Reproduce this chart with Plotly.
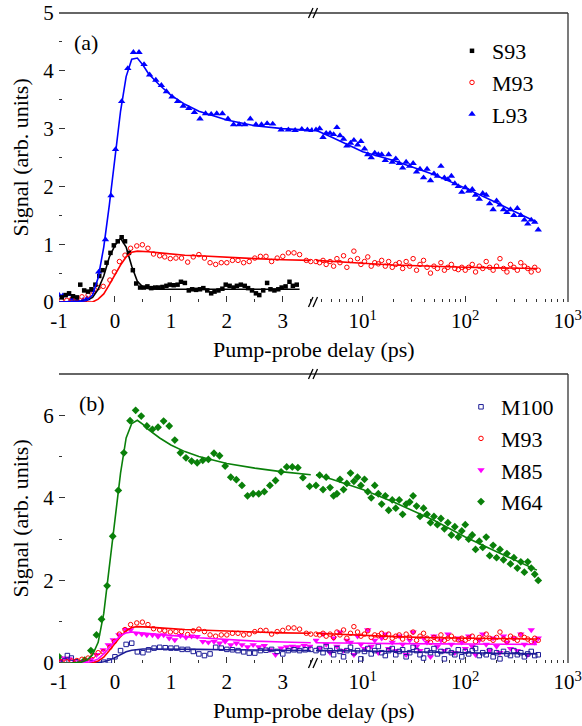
import plotly.graph_objects as go

# ---------------- data ----------------
# Panel (a) - linear part (ps)
s93_t = [-0.95, -0.88, -0.82, -0.75, -0.68, -0.62, -0.55, -0.48, -0.42, -0.35,
         -0.28, -0.22, -0.15, -0.08, -0.02, 0.05, 0.12, 0.18, 0.25, 0.32,
         0.38, 0.45, 0.52, 0.58, 0.65, 0.72, 0.78, 0.85, 0.92, 0.98,
         1.05, 1.12, 1.18, 1.25, 1.32, 1.38, 1.45, 1.52, 1.58, 1.65,
         1.72, 1.78, 1.85, 1.92, 1.98, 2.05, 2.12, 2.18, 2.25, 2.32,
         2.38, 2.45, 2.52, 2.58, 2.65, 2.72, 2.78, 2.85, 2.92, 2.98,
         3.05, 3.12, 3.18, 3.25]
s93_y = [0.08, 0.12, 0.15, 0.10, 0.08, 0.30, 0.20, 0.18, 0.22, 0.30,
         0.45, 0.55, 0.68, 0.85, 0.98, 1.05, 1.12, 1.05, 0.85, 0.55,
         0.32, 0.25, 0.25, 0.27, 0.24, 0.25, 0.25, 0.26, 0.28, 0.30,
         0.29, 0.30, 0.35, 0.33, 0.20, 0.22, 0.21, 0.22, 0.24, 0.20,
         0.15, 0.18, 0.20, 0.23, 0.30, 0.28, 0.25, 0.28, 0.30, 0.28,
         0.24, 0.20, 0.15, 0.12, 0.20, 0.33, 0.22, 0.20, 0.22, 0.25,
         0.27, 0.35, 0.28, 0.30]

m93_t = [-0.96, -0.86, -0.77, -0.68, -0.59, -0.48, -0.39, -0.30, -0.21, -0.09,
         -0.01, 0.08, 0.18, 0.28, 0.39, 0.49, 0.59, 0.69, 0.80, 0.89,
         0.99, 1.09, 1.19, 1.30, 1.40, 1.50, 1.60, 1.70, 1.80, 1.90,
         2.00, 2.10, 2.20, 2.30, 2.40, 2.50, 2.60, 2.70, 2.80, 2.90,
         3.00, 3.10, 3.20, 3.30, 3.42, 3.50]
m93_y = [0.03, 0.03, 0.05, 0.06, 0.09, 0.12, 0.18, 0.25, 0.27, 0.38,
         0.52, 0.70, 0.81, 0.93, 0.97, 0.99, 0.93, 0.83, 0.80, 0.78,
         0.75, 0.76, 0.76, 0.69, 0.78, 0.82, 0.76, 0.68, 0.65, 0.68,
         0.68, 0.72, 0.72, 0.68, 0.70, 0.76, 0.79, 0.79, 0.70, 0.76,
         0.79, 0.85, 0.85, 0.82, 0.72, 0.70]

l93_t = [-1.00, -0.93, -0.83, -0.77, -0.67, -0.57, -0.50, -0.40, -0.29, -0.17,
         -0.07, 0.01, 0.12, 0.23, 0.33, 0.43, 0.52, 0.62, 0.73, 0.83,
         0.92, 1.02, 1.12, 1.22, 1.32, 1.42, 1.52, 1.62, 1.72, 1.82,
         1.92, 2.02, 2.12, 2.22, 2.32, 2.42, 2.52, 2.62, 2.72, 2.82,
         2.97, 3.10, 3.22, 3.34, 3.44, 3.52]
l93_y = [0.12, 0.11, 0.13, 0.05, 0.02, 0.03, 0.06, 0.20, 0.52, 1.08,
         1.84, 2.64, 3.47, 4.04, 4.32, 4.32, 4.11, 3.93, 3.84, 3.75,
         3.64, 3.55, 3.47, 3.39, 3.35, 3.28, 3.17, 3.26, 3.25, 3.26,
         3.26, 3.17, 3.07, 3.07, 3.07, 3.17, 3.07, 3.07, 3.09, 3.08,
         2.98, 2.98, 2.97, 2.99, 2.98, 2.97]

# Log part (ps)
t_log = [3.5, 3.8, 4.1, 4.4, 4.8, 5.2, 5.6, 6.0, 6.5, 7.0,
         7.6, 8.2, 8.9, 9.6, 10.4, 11.2, 12.1, 13.1, 14.2, 15.3,
         16.6, 17.9, 19.4, 21, 22.7, 24.5, 26.5, 28.7, 31, 33.5,
         36.2, 39.2, 42.4, 45.8, 49.5, 53.5, 57.9, 62.6, 67.7, 73.2,
         79.1, 85.5, 92.5, 100, 108, 117, 126, 137, 148, 160,
         173, 187, 202, 218, 236, 255, 276, 298, 322, 348,
         377, 407, 440, 476, 515]
l93_log_y = [2.98, 3.00, 2.85, 2.92, 2.92, 2.90, 3.02, 2.88, 2.82, 2.70,
             2.75, 2.80, 2.72, 2.78, 2.65, 2.55, 2.50, 2.58, 2.55, 2.55,
             2.45, 2.55, 2.42, 2.48, 2.40, 2.32, 2.42, 2.35, 2.40, 2.25,
             2.30, 2.15, 2.30, 2.10, 2.22, 2.18, 2.35, 2.15, 2.12, 2.18,
             2.05, 2.00, 1.90, 1.98, 1.92, 1.95, 1.85, 1.78, 1.88, 1.85,
             1.70, 1.60, 1.75, 1.68, 1.60, 1.55, 1.60, 1.50, 1.62, 1.50,
             1.42, 1.35, 1.42, 1.38, 1.25]
m93_log_y = [0.70, 0.68, 0.72, 0.65, 0.70, 0.62, 0.75, 0.68, 0.80, 0.60,
             0.72, 0.88, 0.75, 0.65, 0.70, 0.78, 0.62, 0.68, 0.66, 0.72,
             0.62, 0.70, 0.60, 0.65, 0.68, 0.58, 0.70, 0.62, 0.75, 0.55,
             0.65, 0.72, 0.60, 0.50, 0.62, 0.58, 0.68, 0.55, 0.60, 0.65,
             0.58, 0.56, 0.60, 0.55, 0.60, 0.65, 0.52, 0.62, 0.58, 0.70,
             0.60, 0.55, 0.62, 0.75, 0.58, 0.52, 0.65, 0.60, 0.55, 0.68,
             0.62, 0.58, 0.52, 0.60, 0.55]

# Fit curves
fit_t_lin = [-1.0, -0.8, -0.6, -0.5, -0.4, -0.3, -0.2, -0.1, 0.0, 0.1, 0.2, 0.3,
             0.4, 0.5, 0.6, 0.8, 1.0, 1.25, 1.5, 2.0, 2.5, 3.0, 3.5]
fit_t_log = [3.5, 5, 10, 20, 50, 100, 200, 500]

s93_fit_t = [-1.0, -0.8, -0.6, -0.5, -0.4, -0.3, -0.2, -0.1, 0.0, 0.1, 0.2, 0.3,
             0.4, 0.5, 0.6, 0.8, 1.0, 1.5, 2.0, 2.5, 3.0, 3.3]
s93_fit_y = [0.0, 0.0, 0.01, 0.03, 0.08, 0.22, 0.45, 0.78, 0.98, 1.10, 0.95, 0.62,
             0.36, 0.26, 0.23, 0.22, 0.22, 0.22, 0.22, 0.22, 0.22, 0.22]
m93_fit_y = [0.0, 0.0, 0.0, 0.0, 0.0, 0.05, 0.14, 0.30, 0.47, 0.64, 0.78, 0.86,
             0.88, 0.88, 0.87, 0.85, 0.83, 0.81, 0.80, 0.77, 0.75, 0.73, 0.72]
l93_fit_y = [0.0, 0.0, 0.01, 0.03, 0.12, 0.42, 0.95, 1.68, 2.52, 3.30, 3.90, 4.20,
             4.22, 4.10, 3.95, 3.75, 3.58, 3.42, 3.30, 3.15, 3.05, 3.00, 2.97]
m93_fit_log_y = [0.72, 0.70, 0.67, 0.64, 0.61, 0.60, 0.59, 0.58]
l93_fit_log_y = [2.97, 2.85, 2.60, 2.45, 2.20, 1.97, 1.72, 1.38]

# Panel (b)
m100_t = [-1.0, -0.9, -0.85, -0.78, -0.7, -0.6, -0.4, -0.2, -0.1, 0.0,
          0.1, 0.2, 0.3, 0.4, 0.5, 0.6, 0.7, 0.8, 0.9, 1.0,
          1.1, 1.2, 1.3, 1.4, 1.5, 1.6, 1.7, 1.8, 1.9, 2.0,
          2.1, 2.2, 2.3, 2.4, 2.5, 2.6, 2.7, 2.8, 2.9, 3.0,
          3.1, 3.2, 3.3, 3.4, 3.5]
m100_y = [0.02, 0.05, 0.18, 0.12, 0.03, 0.00, 0.00, 0.02, 0.05, 0.15,
          0.30, 0.45, 0.48, 0.27, 0.25, 0.32, 0.36, 0.38, 0.37, 0.36,
          0.36, 0.33, 0.33, 0.28, 0.22, 0.18, 0.22, 0.38, 0.36, 0.33,
          0.32, 0.30, 0.27, 0.24, 0.24, 0.30, 0.31, 0.33, 0.28, 0.22,
          0.30, 0.32, 0.30, 0.32, 0.33]
m85_t = [-0.97, -0.9, -0.82, -0.73, -0.63, -0.53, -0.43, -0.33, -0.21, -0.12,
         -0.03, 0.07, 0.19, 0.28, 0.38, 0.48, 0.57, 0.67, 0.77, 0.87,
         0.97, 1.07, 1.17, 1.27, 1.37, 1.47, 1.57, 1.67, 1.77, 1.87,
         1.97, 2.07, 2.17, 2.27, 2.37, 2.47, 2.57, 2.67, 2.77, 2.87,
         2.97, 3.07, 3.17, 3.27, 3.38, 3.48]
m85_y = [0.05, 0.12, 0.10, 0.05, 0.02, 0.03, 0.08, 0.20, 0.32, 0.44,
         0.56, 0.68, 0.81, 0.80, 0.72, 0.70, 0.68, 0.68, 0.64, 0.68,
         0.60, 0.56, 0.66, 0.62, 0.65, 0.64, 0.52, 0.50, 0.52, 0.48,
         0.52, 0.44, 0.48, 0.44, 0.39, 0.44, 0.39, 0.42, 0.32, 0.20,
         0.36, 0.39, 0.40, 0.39, 0.42, 0.40]
m64_t = [-1.0, -0.54, -0.43, -0.33, -0.24, -0.14, -0.04, 0.06, 0.16, 0.27,
         0.37, 0.47, 0.57, 0.67, 0.77, 0.87, 0.97, 1.07, 1.17, 1.27,
         1.37, 1.47, 1.57, 1.67, 1.77, 1.87, 1.97, 2.07, 2.17, 2.27,
         2.37, 2.47, 2.57, 2.67, 2.77, 2.87, 2.97, 3.07, 3.17, 3.27,
         3.36, 3.48]
m64_y = [0.15, 0.07, 0.30, 0.68, 1.06, 1.87, 3.07, 4.18, 5.09, 5.87,
         6.12, 5.98, 5.74, 5.66, 5.71, 5.86, 5.74, 5.40, 5.09, 4.97,
         4.89, 4.85, 4.91, 4.93, 5.08, 5.02, 4.77, 4.50, 4.44, 4.30,
         4.05, 4.10, 4.10, 4.15, 4.30, 4.42, 4.63, 4.75, 4.75, 4.73,
         4.49, 4.28]

m100_log_y = [0.30, 0.35, 0.25, 0.40, 0.30, 0.20, 0.35, 0.28, 0.15, 0.30,
              0.38, 0.25, 0.30, 0.10, 0.28, 0.35, 0.22, 0.30, 0.40, 0.25,
              0.18, 0.30, 0.35, 0.20, 0.28, 0.32, 0.15, 0.25, 0.38, 0.30,
              0.20, 0.12, 0.30, 0.25, 0.35, 0.22, 0.28, 0.10, 0.30, 0.25,
              0.20, 0.32, 0.15, 0.28, 0.22, 0.30, 0.35, 0.18, 0.25, 0.20,
              0.30, 0.15, 0.25, 0.10, 0.28, 0.22, 0.18, 0.30, 0.20, 0.25,
              0.15, 0.22, 0.28, 0.18, 0.20]
m85_log_y = [0.55, 0.35, 0.70, 0.45, 0.25, 0.60, 0.40, 0.75, 0.30, 0.55,
             0.50, 0.20, 0.65, 0.45, 0.35, 0.80, 0.40, 0.55, 0.25, 0.60,
             0.70, 0.35, 0.50, 0.30, 0.65, 0.45, 0.20, 0.55, 0.75, 0.40,
             0.30, 0.60, 0.50, 0.15, 0.65, 0.40, 0.55, 0.30, 0.70, 0.45,
             0.25, 0.60, 0.50, 0.35, 0.65, 0.40, 0.20, 0.55, 0.70, 0.45,
             0.30, 0.60, 0.40, 0.25, 0.65, 0.50, 0.35, 0.60, 0.30, 0.70,
             0.45, 0.20, 0.80, 0.50, 0.60]
m64_log_y = [4.30, 4.55, 4.20, 4.50, 4.25, 4.05, 4.10, 4.45, 4.20, 4.35,
             4.60, 4.40, 4.50, 4.30, 4.45, 4.15, 4.00, 4.30, 4.10, 3.85,
             4.05, 3.70, 3.95, 3.75, 3.95, 3.60, 3.85, 3.90, 4.05, 3.80,
             3.55, 3.75, 3.60, 3.40, 3.55, 3.35, 3.50, 3.25, 3.40, 3.10,
             3.30, 3.05, 3.20, 3.35, 3.00, 3.10, 2.75, 2.95, 2.80, 3.05,
             2.60, 2.85, 2.55, 2.75, 2.50, 2.65, 2.40, 2.55, 2.30, 2.45,
             2.20, 2.45, 2.30, 2.15, 2.00]

m100_fit_y = [0.0, 0.0, 0.0, 0.0, 0.0, 0.01, 0.03, 0.07, 0.13, 0.20, 0.27, 0.31,
              0.33, 0.34, 0.34, 0.34, 0.34, 0.33, 0.33, 0.32, 0.31, 0.31, 0.30]
m85_fit_y = [0.0, 0.0, 0.0, 0.01, 0.04, 0.10, 0.22, 0.38, 0.53, 0.66, 0.73, 0.75,
             0.74, 0.73, 0.72, 0.70, 0.67, 0.64, 0.61, 0.57, 0.53, 0.51, 0.49]
m64_fit_y = [0.0, 0.0, 0.02, 0.07, 0.20, 0.50, 1.20, 2.30, 3.50, 4.60, 5.45, 5.80,
             5.88, 5.78, 5.65, 5.45, 5.28, 5.12, 5.00, 4.83, 4.72, 4.63, 4.56]
m100_fit_log_y = [0.30, 0.30, 0.29, 0.28, 0.26, 0.25, 0.24, 0.22]
m85_fit_log_y = [0.49, 0.49, 0.48, 0.47, 0.46, 0.46, 0.45, 0.45]
m64_fit_log_y = [4.56, 4.45, 4.20, 3.90, 3.45, 3.05, 2.70, 2.25]

xtick_lin = [-1, 0, 1, 2, 3]
xtick_lin_text = ["-1", "0", "1", "2", "3"]
xtick_log = [10, 100, 1000]
xtick_log_text = ["10<sup>1</sup>", "10<sup>2</sup>", "10<sup>3</sup>"]
xminor_log = [4, 5, 6, 7, 8, 9, 20, 30, 40, 50, 60, 70, 80, 90,
              200, 300, 400, 500, 600, 700, 800, 900]

# ---------------- layout geometry (pixels) ----------------
W, H = 582, 726
X0, XB, X1 = 59, 313, 568
A_TOP, A_BOT = 13, 302
B_TOP, B_BOT = 374, 663
FONT = "Liberation Serif"
AX = "#333333"


def fx(p):
    return p / W


def fy(p):
    return 1 - p / H


fig = go.Figure()

BLACK, RED, BLUE = "#000000", "#ff0000", "#0000ff"
NAVY, MAG, GREEN = "#1c1c96", "#ff00ff", "#0a800a"

sym = {
    "S93": dict(symbol="square", size=4.5, color=BLACK),
    "M93": dict(symbol="circle-open", size=4.5, color=RED, line=dict(width=1, color=RED)),
    "L93": dict(symbol="triangle-up", size=6.5, color=BLUE),
    "M100": dict(symbol="square-open", size=4.5, color=NAVY, line=dict(width=1, color=NAVY)),
    "M85": dict(symbol="triangle-down", size=6.5, color=MAG),
    "M64": dict(symbol="diamond", size=6, color=GREEN),
}


def pts(t, y, xa, ya, name, legend, show, z):
    fig.add_trace(go.Scatter(x=t, y=y, xaxis=xa, yaxis=ya, mode="markers",
                             marker=sym[name], name=name, legend=legend,
                             showlegend=show, zorder=z))


def line(t, y, xa, ya, color, z):
    fig.add_trace(go.Scatter(x=t, y=y, xaxis=xa, yaxis=ya, mode="lines",
                             line=dict(color=color, width=1.6), showlegend=False,
                             hoverinfo="skip", zorder=z))


# Panel (a)
pts(s93_t, s93_y, "x", "y", "S93", "legend", True, 3)
pts(m93_t, m93_y, "x", "y", "M93", "legend", True, 2)
pts(l93_t, l93_y, "x", "y", "L93", "legend", True, 1)
pts(t_log, m93_log_y, "x2", "y", "M93", "legend", False, 2)
pts(t_log, l93_log_y, "x2", "y", "L93", "legend", False, 1)
line(s93_fit_t, s93_fit_y, "x", "y", BLACK, 5)
line(fit_t_lin, m93_fit_y, "x", "y", RED, 5)
line(fit_t_lin, l93_fit_y, "x", "y", BLUE, 5)
line(fit_t_log, m93_fit_log_y, "x2", "y", RED, 5)
line(fit_t_log, l93_fit_log_y, "x2", "y", BLUE, 5)

# Panel (b)
pts(m100_t, m100_y, "x3", "y2", "M100", "legend2", True, 3)
pts(m93_t, m93_y, "x3", "y2", "M93", "legend2", True, 4)
pts(m85_t, m85_y, "x3", "y2", "M85", "legend2", True, 2)
pts(m64_t, m64_y, "x3", "y2", "M64", "legend2", True, 1)
pts(t_log, m100_log_y, "x4", "y2", "M100", "legend2", False, 3)
pts(t_log, m93_log_y, "x4", "y2", "M93", "legend2", False, 4)
pts(t_log, m85_log_y, "x4", "y2", "M85", "legend2", False, 2)
pts(t_log, m64_log_y, "x4", "y2", "M64", "legend2", False, 1)
for ya_t, ya_y, xa, col in [(fit_t_lin, m100_fit_y, "x3", NAVY), (fit_t_lin, m93_fit_y, "x3", RED),
                            (fit_t_lin, m85_fit_y, "x3", MAG), (fit_t_lin, m64_fit_y, "x3", GREEN),
                            (fit_t_log, m100_fit_log_y, "x4", NAVY), (fit_t_log, m93_fit_log_y, "x4", RED),
                            (fit_t_log, m85_fit_log_y, "x4", MAG), (fit_t_log, m64_fit_log_y, "x4", GREEN)]:
    line(ya_t, ya_y, xa, "y2", col, 5)

tickfont = dict(family=FONT, size=21, color="black")
common = dict(showgrid=False, zeroline=False, showline=True, linecolor=AX, linewidth=1.3,
              ticks="inside", ticklen=6, tickcolor=AX, tickwidth=1.2, tickfont=tickfont,
              automargin=False)


def xlin(dom, anchor):
    return dict(common, domain=dom, anchor=anchor, range=[-1, 3.54], tickmode="array",
                tickvals=xtick_lin, ticktext=xtick_lin_text,
                minor=dict(ticks="inside", ticklen=3, tickcolor=AX, dtick=0.5, tick0=0))


def xlog(dom, anchor):
    return dict(common, domain=dom, anchor=anchor, type="log", range=[0.515, 3.002],
                tickmode="array", tickvals=xtick_log, ticktext=xtick_log_text,
                minor=dict(ticks="inside", ticklen=3, tickcolor=AX, tickmode="array",
                           tickvals=xminor_log))


dl = [fx(X0), fx(XB)]
dr = [fx(XB), fx(X1)]
fig.update_layout(
    width=W, height=H, margin=dict(l=0, r=0, t=0, b=0),
    paper_bgcolor="white", plot_bgcolor="white",
    font=dict(family=FONT, size=21, color="black"),
    xaxis=xlin(dl, "y"),
    xaxis2=xlog(dr, "y"),
    xaxis3=xlin(dl, "y2"),
    xaxis4=xlog(dr, "y2"),
    yaxis=dict(common, domain=[fy(A_BOT), fy(A_TOP)], anchor="x", range=[0, 5], dtick=1,
               minor=dict(ticks="inside", ticklen=3, tickcolor=AX, dtick=0.5)),
    yaxis2=dict(common, domain=[fy(B_BOT), fy(B_TOP)], anchor="x3", range=[0, 7], dtick=2,
                tickvals=[0, 2, 4, 6],
                minor=dict(ticks="inside", ticklen=3, tickcolor=AX, dtick=1)),
    legend=dict(x=fx(452), y=fy(30), xanchor="left", yanchor="top", bgcolor="rgba(0,0,0,0)",
                font=dict(family=FONT, size=22)),
    legend2=dict(x=fx(461), y=fy(386), xanchor="left", yanchor="top", bgcolor="rgba(0,0,0,0)",
                 font=dict(family=FONT, size=22)),
    showlegend=True,
)

shapes = []
for top, bot in [(A_TOP, A_BOT), (B_TOP, B_BOT)]:
    shapes.append(dict(type="line", xref="paper", yref="paper", x0=fx(X0), x1=fx(X1),
                       y0=fy(top), y1=fy(top), line=dict(color=AX, width=1.3)))
    shapes.append(dict(type="line", xref="paper", yref="paper", x0=fx(X1), x1=fx(X1),
                       y0=fy(top), y1=fy(bot), line=dict(color=AX, width=1.3)))
    for yy in (top, bot):
        for dx in (0, 4.5):
            shapes.append(dict(type="line", xref="paper", yref="paper",
                               x0=fx(XB - 4.5 + dx), x1=fx(XB + dx), y0=fy(yy + 5), y1=fy(yy - 5),
                               line=dict(color="black", width=1.3)))
fig.update_layout(shapes=shapes)

ann = []
ttl = dict(family=FONT, size=22, color="black")
for top, bot, lab, lx in [(A_TOP, A_BOT, "(a)", 72), (B_TOP, B_BOT, "(b)", 77)]:
    ann.append(dict(text="Signal (arb. units)", textangle=-90, xref="paper", yref="paper",
                    x=fx(20), y=fy((top + bot) / 2), xanchor="center", yanchor="middle",
                    showarrow=False, font=ttl))
    ann.append(dict(text="Pump-probe delay (ps)", xref="paper", yref="paper",
                    x=fx(314), y=fy(bot + 47), xanchor="center", yanchor="middle",
                    showarrow=False, font=ttl))
    ann.append(dict(text=lab, xref="paper", yref="paper", x=fx(lx), y=fy(top + 29),
                    xanchor="left", yanchor="middle", showarrow=False, font=ttl))
fig.update_layout(annotations=ann)

fig.write_html("out.html", config={"displayModeBar": False},
               post_script="document.body.style.margin='0';")
